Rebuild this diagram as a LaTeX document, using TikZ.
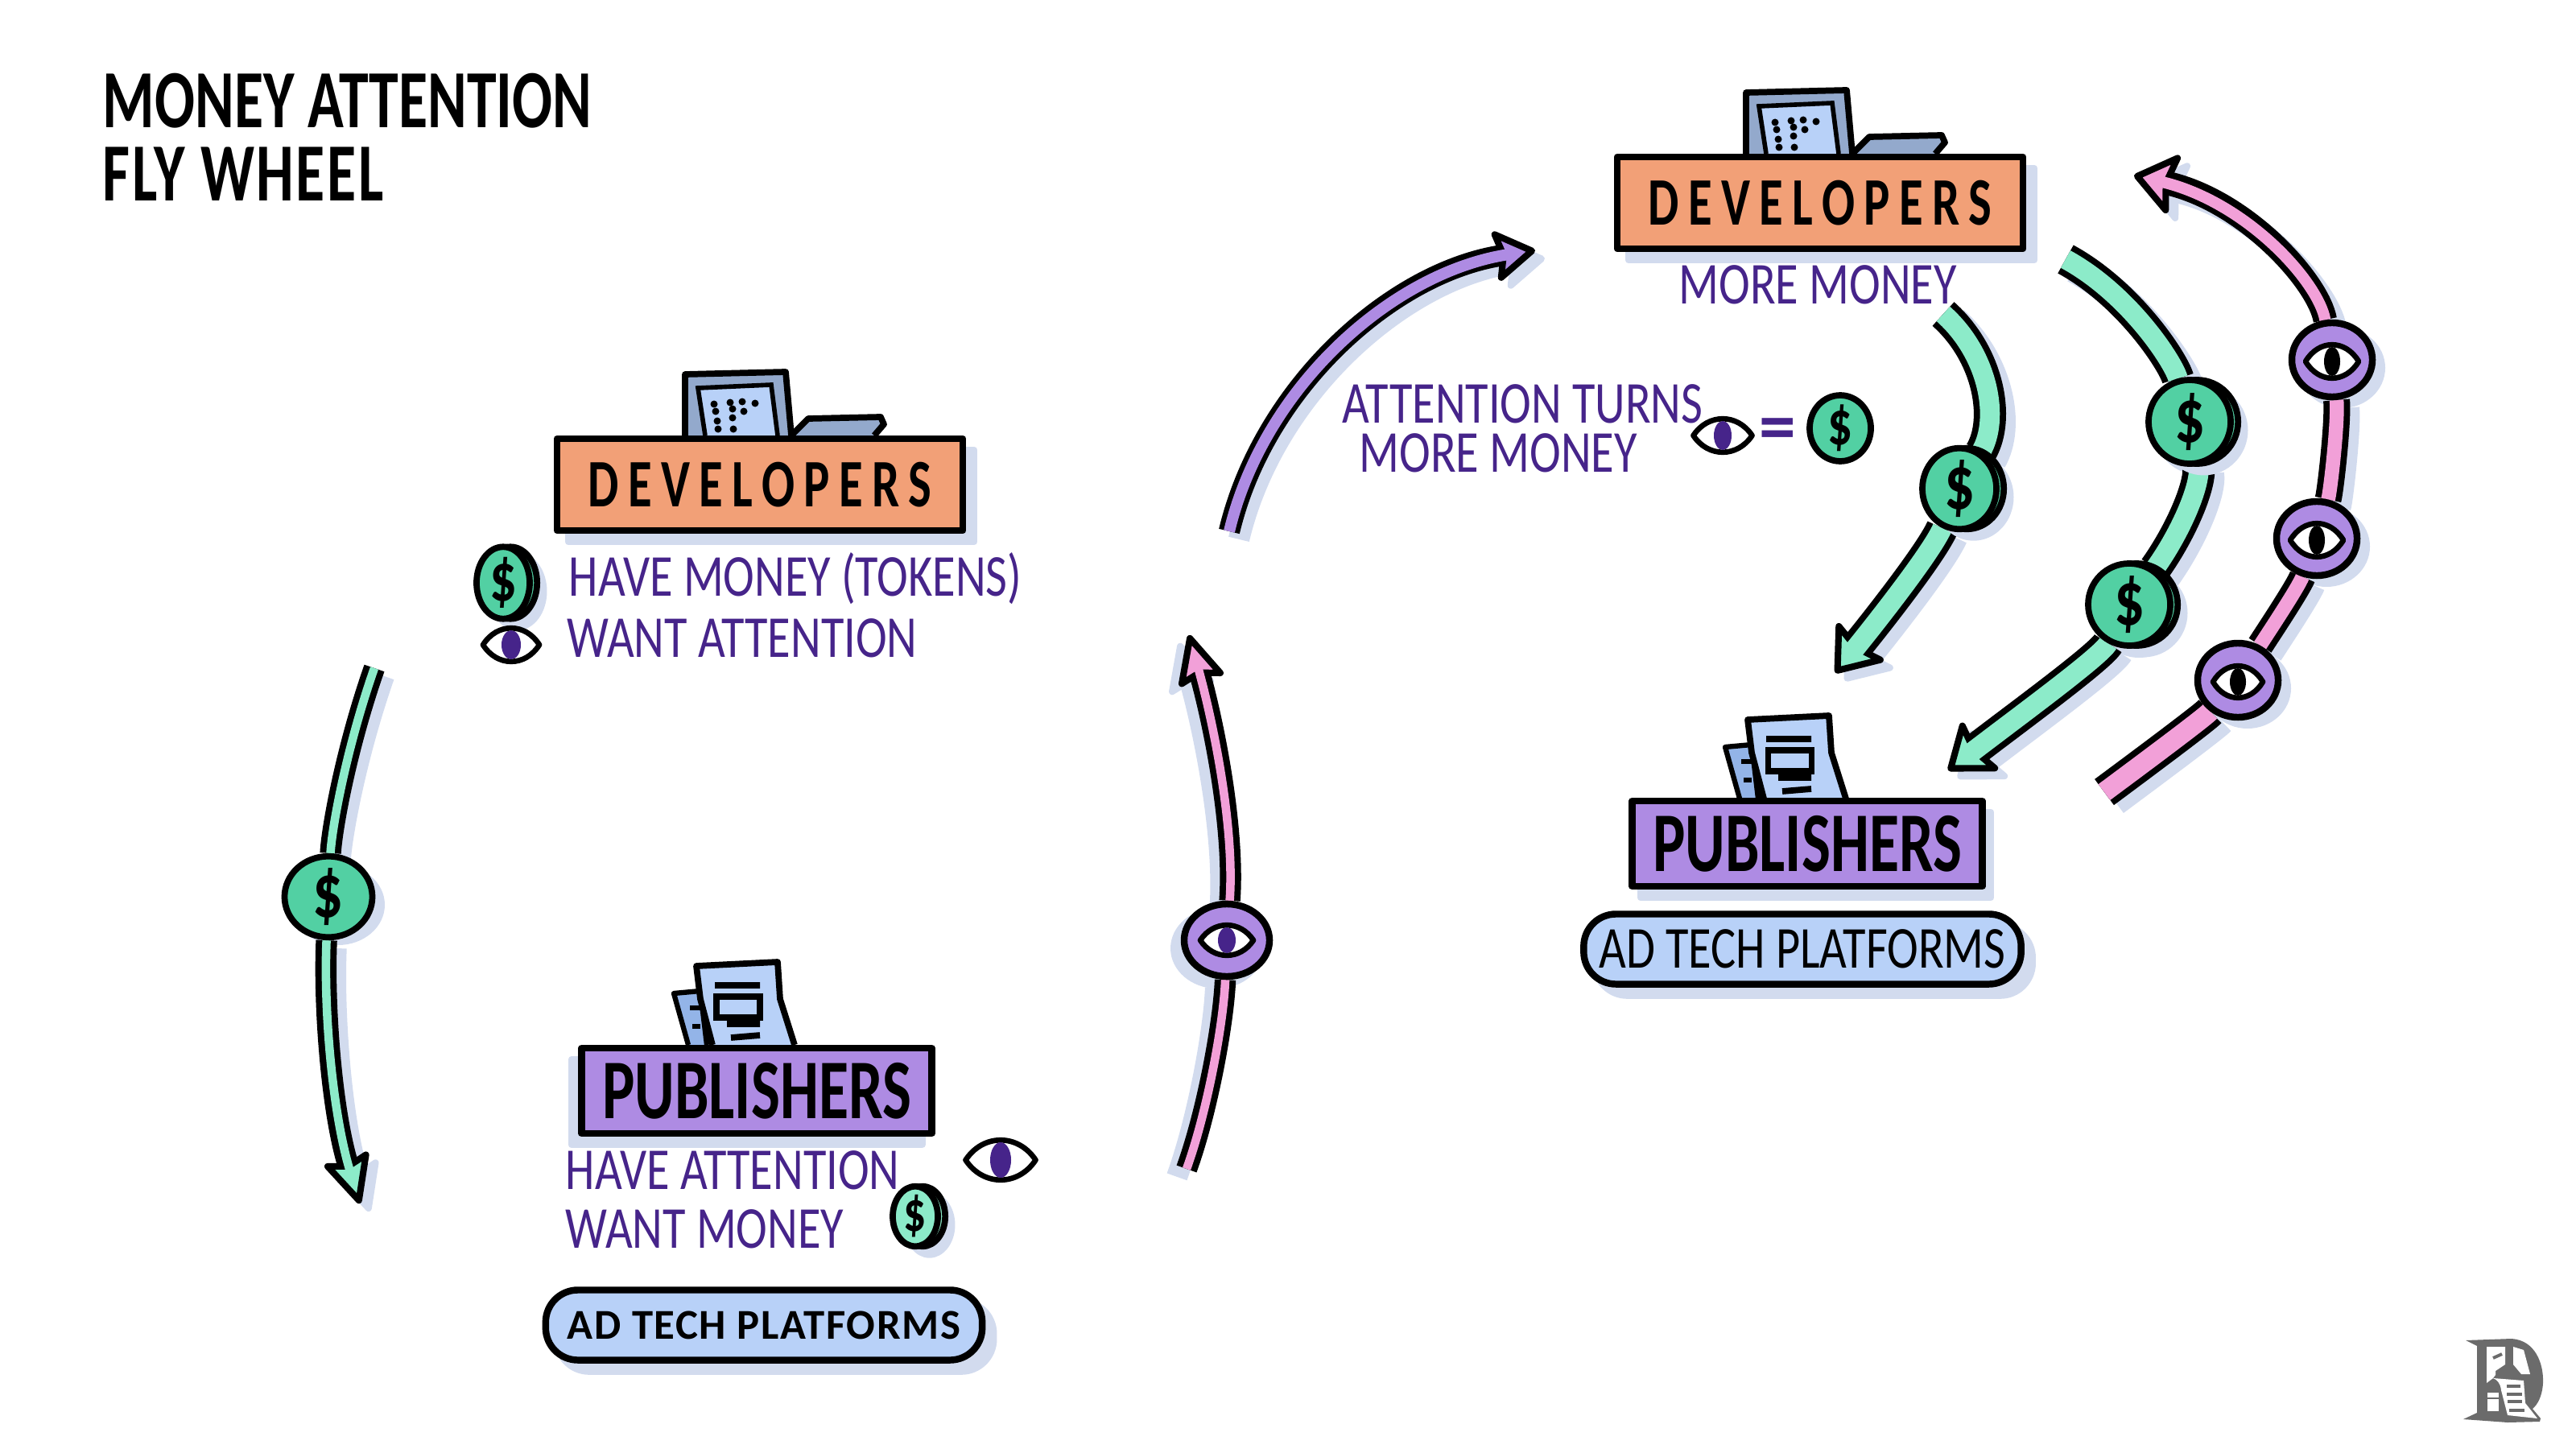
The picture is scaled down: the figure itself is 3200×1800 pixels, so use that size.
\documentclass[tikz,border=0pt]{standalone}
\usepackage{fontspec}
\setmainfont{Carlito}
\newfontfamily\handfont[FakeStretch=0.79]{Carlito}
\newfontfamily\labelfont[FakeStretch=0.72]{Carlito}
\newfontfamily\widefont{Carlito}
\usetikzlibrary{arrows.meta,shapes.geometric}
\pgfdeclarelayer{shadowlayer}
\pgfdeclarelayer{arrowlayer}
\pgfsetlayers{shadowlayer,arrowlayer,main}
\definecolor{orangebox}{HTML}{F2A077}
\definecolor{purplebox}{HTML}{AE8BE3}
\definecolor{bluebox}{HTML}{B8D1F8}
\definecolor{steel}{HTML}{93A9CC}
\definecolor{paperback}{HTML}{93B4E8}
\definecolor{mint}{HTML}{8CEBC9}
\definecolor{coingreen}{HTML}{52D0A3}
\definecolor{pinkline}{HTML}{F2A0D8}
\definecolor{ink}{HTML}{46248A}
\definecolor{shadowc}{HTML}{D2DBEE}
\definecolor{logogrey}{HTML}{6B6B6B}
\def\shadowdx{3.4pt}
\tikzset{
  shadowdx/.store in=\shadowdx,
  offshadow/.style={preaction={fill=shadowc, draw=shadowc, transform canvas={shift={(#1,-4pt)}}}},
  sign/.style={draw=black, line width=2.4pt, line join=round, inner sep=0pt},
  devbox/.style={sign, offshadow=4pt, fill=orangebox, minimum width=5.04cm, minimum height=1.14cm,
    font=\labelfont\bfseries\fontsize{24}{24}\selectfont\addfontfeatures{LetterSpace=13.5}},
  pubbox/.style={sign, offshadow=#1, fill=purplebox, minimum width=4.35cm, minimum height=1.06cm,
    font=\labelfont\bfseries\fontsize{30}{30}\selectfont},
  adpill/.style={sign, offshadow=4pt, fill=bluebox, rounded corners=0.4cm},
  said/.style={text=ink, anchor=base west, inner sep=0pt, font=\handfont\fontsize{21}{21}\selectfont},
  title/.style={anchor=base west, inner sep=0pt, font=\labelfont\bfseries\fontsize{29.2}{29.2}\selectfont},
  coin/.style={ellipse, draw=black, line width=2.2pt, inner sep=0pt, fill=coingreen,
    font=\handfont\bfseries\fontsize{27}{27}\selectfont},
  coinedge/.style={preaction={fill=shadowc, draw=shadowc, transform canvas={shift={(5pt,-3pt)}}},
    preaction={fill=#1, draw=black, transform canvas={shift={(2.6pt,0pt)}}}},
  eyecoin/.style={ellipse, draw=black, line width=2.4pt, inner sep=0pt, fill=purplebox,
    minimum width=1.0cm, minimum height=0.92cm},
  % shaft without a head: colour, fill width, full width
  shaft/.style n args={3}{draw=#1, line width=#2, line cap=butt,
    preaction={draw=shadowc, line width=#3, transform canvas={shift={(\shadowdx,-2.8pt)}}},
    preaction={draw=black, line width=#3}},
  % shaft with a head: colour, fill width, full width, head length, head width
  shafthead/.style n args={5}{draw=#1, line width=#2, line cap=butt, shorten >=#4*0.6,
    preaction={draw=shadowc, line width=#3, shorten >=0pt, transform canvas={shift={(\shadowdx,-2.8pt)}},
      -{Stealth[length=#4, width=#5, inset=2.5pt, fill=shadowc, line width=2.3pt, round]}},
    preaction={draw=black, line width=#3, shorten >=0pt,
      -{Stealth[length=#4, width=#5, inset=2.5pt, fill=#1, line width=2.3pt, round]}}},
  pics/laptop/.style={code={
    \draw[fill=steel, line width=2.2pt, line join=round] (163,0) -- (163,-76) -- (288,-79) -- (295,0);
    \draw[fill=bluebox, line width=1.6pt] (188,0) -- (179,-59) -- (270,-63) -- (278,0);
    \draw[fill=steel, line width=2.2pt, line join=round] (295,0) -- (316,-21) -- (406,-23) -- (410,-14) -- (398,0);
    \foreach \px/\py in {199/-39,219/-41,234/-42,250/-40,201/-30,222/-33,236/-30,203/-18,222/-22,204/-8,223/-8}
      \fill (\px,\py) circle [radius=4.5];
  }},
  pics/papers/.style={code={
    \draw[fill=paperback, line width=1.8pt, line join=round] (137,0) -- (119,-64) -- (152,-67) -- (160,0);
    \draw[line width=1.8pt] (139,-46) -- (152,-46) (142,-23) -- (152,-23);
    \draw[fill=bluebox, line width=2.2pt, line join=round] (167,0) -- (152,-57) -- (147,-98) -- (248,-103) -- (251,-57) -- (269,0);
    \draw[line width=2.2pt] (170,-74) -- (226,-74) (185,-26) -- (226,-26) (190,-9) -- (226,-12);
    \draw[line width=2pt] (172,-60) rectangle (226,-34);
  }},
  pics/eyeicon/.style n args={4}{code={
    \draw[fill=white, line width=1.9pt, line join=round] (-#1/2,0) .. controls (-#1/4,-#2*0.66) and (#1/4,-#2*0.66) .. (#1/2,0)
      .. controls (#1/4,#2*0.66) and (-#1/4,#2*0.66) .. cycle;
    \fill[#4] (0,0) ellipse [x radius=#3/2, y radius=#2/2-3];
  }}
}
\begin{document}
\begin{tikzpicture}[x=0.01cm, y=-0.01cm]
  \useasboundingbox (0,0) rectangle (3200,1800);

  \node[title] (head1) at (127,159) {MONEY ATTENTION};
  \node[title] (head2) at (127,249) {\addfontfeatures{LetterSpace=2.5}FLY WHEEL};

  % left loop
  \pic (laptop1) at (688,541) {laptop};
  \pic (papers1) at (718,1298) {papers};
  \node[devbox] (dev1) at (944,602) {DEVELOPERS};
  \node[pubbox=-3.5pt] (pub1) at (940,1355) {PUBLISHERS};
  \node[adpill, minimum width=5.42cm, minimum height=0.87cm, font=\widefont\bfseries\fontsize{15}{15}\selectfont\addfontfeatures{LetterSpace=3}] (ad1) at (949,1646) {AD TECH PLATFORMS};
  \node[said] (havemoney) at (706,740) {HAVE MONEY (TOKENS)};
  \node[said] (wantattn) at (704,816) {WANT ATTENTION};
  \node[said] (haveattn) at (702,1477) {HAVE ATTENTION};
  \node[said] (wantmoney) at (702,1550) {WANT MONEY};
  \node[coin, coinedge=coingreen, minimum width=0.66cm, minimum height=0.80cm, font=\handfont\bfseries\fontsize{24}{24}\selectfont] (coinicon1) at (625,724) {\$};
  \node[coin, coinedge=mint, fill=mint, minimum width=0.56cm, minimum height=0.68cm, font=\handfont\bfseries\fontsize{20}{20}\selectfont] (coinicon2) at (1137,1511) {\$};
  \pic (eyeicon1) at (635,801) {eyeicon={70}{42}{24}{ink}};
  \pic (eyeicon2) at (1243,1441) {eyeicon={87}{50}{26}{ink}};

  \node[coin, minimum width=1.09cm, minimum height=0.90cm] (coinL) at (408,1114) {\$};
  \node[eyecoin, minimum width=1.06cm, minimum height=0.90cm] (eyecoinL) at (1524,1168) {};
  \pic (eyeL) at (1524,1168) {eyeicon={66}{38}{22}{ink}};
  \coordinate (tailL) at (465,830);
  \coordinate (tipL) at (447,1495);
  \coordinate (tailM) at (1474,1452);
  \coordinate (tipM) at (1477,789);
  \coordinate (tailT) at (1527,660);
  \coordinate (tipT) at (1907,311);

  % right loop
  \pic (laptop2) at (2006,191) {laptop};
  \pic (papers2) at (2024,992) {papers};
  \node[devbox] (dev2) at (2261,252) {DEVELOPERS};
  \node[pubbox=3pt] (pub2) at (2245,1048) {PUBLISHERS};
  \node[adpill, minimum width=5.43cm, minimum height=0.87cm, font=\handfont\fontsize{21}{21}\selectfont] (ad2) at (2239,1179) {AD TECH PLATFORMS};
  \node[said] (moremoney) at (2085,377) {MORE MONEY};
  \node[said] (attnturns) at (1667,525) {ATTENTION TURNS};
  \node[said] (moremoney2) at (1688,586) {MORE MONEY};
  \pic (eyeicon3) at (2140,541) {eyeicon={73}{42}{22}{ink}};
  \node[text=ink, inner sep=0pt, font=\widefont\bfseries\fontsize{26}{26}\selectfont] (equals) at (2208,540) {=};
  \node[coin, minimum width=0.76cm, minimum height=0.74cm, font=\handfont\bfseries\fontsize{22}{22}\selectfont] (coineq) at (2286,532) {\$};

  \node[coin, coinedge=coingreen, minimum width=0.92cm, minimum height=0.90cm] (coinR1) at (2434,607) {\$};
  \node[coin, coinedge=coingreen, minimum width=1.02cm, minimum height=1.04cm] (coinR2) at (2720,524) {\$};
  \node[coin, coinedge=coingreen, minimum width=1.02cm, minimum height=1.02cm] (coinR3) at (2645,751) {\$};
  \node[eyecoin] (eyecoinA) at (2897,447) {};
  \node[eyecoin] (eyecoinB) at (2878,669) {};
  \node[eyecoin] (eyecoinC) at (2780,845) {};
  \pic (eyeA) at (2897,449) {eyeicon={66}{42}{20}{black}};
  \pic (eyeB) at (2878,671) {eyeicon={66}{42}{20}{black}};
  \pic (eyeC) at (2780,847) {eyeicon={62}{40}{20}{black}};
  \coordinate (tailR1) at (2414,390);
  \coordinate (tipR1) at (2280,836);
  \coordinate (tailR2) at (2566,322);
  \coordinate (tipR2) at (2420,957);
  \coordinate (tailR3) at (2614,984);
  \coordinate (tipR3) at (2651,218);

  \begin{pgfonlayer}{shadowlayer}
    \foreach \cx/\cy/\crx/\cry in {408/1114/58/50,1500/1168/58/50,2434/607/50/50,2720/524/56/56,2645/751/56/56,2897/447/54/50,2878/669/54/50,2780/845/54/50}
      \fill[shadowc] (\cx+12,\cy+10) ellipse [x radius=\crx, y radius=\cry];
  \end{pgfonlayer}

  \begin{pgfonlayer}{arrowlayer}
    \draw[shaft={mint}{3pt}{7.5pt}] (tailL) .. controls (430,930) and (412,1030) .. (coinL);
    \draw[shafthead={mint}{3pt}{7.5pt}{19pt}{18pt}] (coinL) .. controls (402,1250) and (412,1380) .. (tipL);
    \draw[shadowdx=-3.4pt, shaft={pinkline}{3pt}{7.5pt}] (tailM) .. controls (1500,1380) and (1520,1270) .. (eyecoinL);
    \draw[shadowdx=-3.4pt, shafthead={pinkline}{3pt}{7.5pt}{19pt}{18pt}] (eyecoinL) .. controls (1534,1030) and (1508,900) .. (tipM);
    \draw[shafthead={purplebox}{4pt}{7.5pt}{16pt}{20pt}] (tailT) .. controls (1570,480) and (1730,338) .. (tipT);

    \draw[shaft={mint}{7pt}{11.4pt}] (tailR1) .. controls (2470,440) and (2485,520) .. (coinR1);
    \draw[shafthead={mint}{7pt}{11.4pt}{16pt}{24pt}] (coinR1) .. controls (2400,685) and (2335,768) .. (tipR1);
    \draw[shaft={mint}{7pt}{11.4pt}] (tailR2) .. controls (2645,365) and (2700,450) .. (coinR2);
    \draw[shaft={mint}{7pt}{11.4pt}] (coinR2) .. controls (2735,600) and (2710,660) .. (coinR3);
    \draw[shafthead={mint}{7pt}{11.4pt}{16pt}{24pt}] (coinR3) .. controls (2610,815) and (2510,888) .. (tipR2);
    \draw[shaft={pinkline}{7pt}{11.4pt}] (tailR3) .. controls (2680,935) and (2740,890) .. (eyecoinC);
    \draw[shaft={pinkline}{5pt}{9.4pt}] (eyecoinC) .. controls (2815,790) and (2855,730) .. (eyecoinB);
    \draw[shaft={pinkline}{5pt}{9.4pt}] (eyecoinB) .. controls (2895,610) and (2905,520) .. (eyecoinA);
    \draw[shafthead={pinkline}{4pt}{8.4pt}{16pt}{24pt}] (eyecoinA) .. controls (2880,350) and (2790,250) .. (tipR3);
  \end{pgfonlayer}

  % logo
  \fill[logogrey] (3063,1665) -- (3120,1663) .. controls (3150,1665) and (3160,1695) .. (3159,1718) .. controls (3158,1735) and (3152,1745) .. (3146,1750) -- (3156,1762) -- (3155,1766) -- (3115,1767) -- (3060,1763) -- (3077,1755) -- (3077,1672) -- cycle;
  \fill[white] (3089,1673) -- (3112,1673) -- (3112,1695) -- (3100,1703) -- (3100,1708) -- (3097,1712) -- (3089,1718) -- cycle;
  \fill[white] (3122,1673) -- (3135,1677) -- (3143,1707) -- (3132,1707) -- (3122,1695) -- cycle;
  \fill[white] (3097,1712) -- (3135,1715) -- (3137,1743) -- (3152,1762) -- (3115,1758) -- (3107,1727) .. controls (3106,1718) and (3102,1714) .. cycle;
  \fill[white] (3090,1730) rectangle (3104,1753);
  \fill[logogrey] (3090,1736) rectangle (3104,1738);
  \draw[logogrey, line width=1.1pt] (3097,1687) -- (3108,1682);
  \draw[logogrey, line width=1.1pt] (3114,1722) -- (3131,1722) (3114,1732) -- (3133,1732) (3115,1741) -- (3133,1741) (3117,1752) -- (3136,1752);
\end{tikzpicture}
\end{document}
